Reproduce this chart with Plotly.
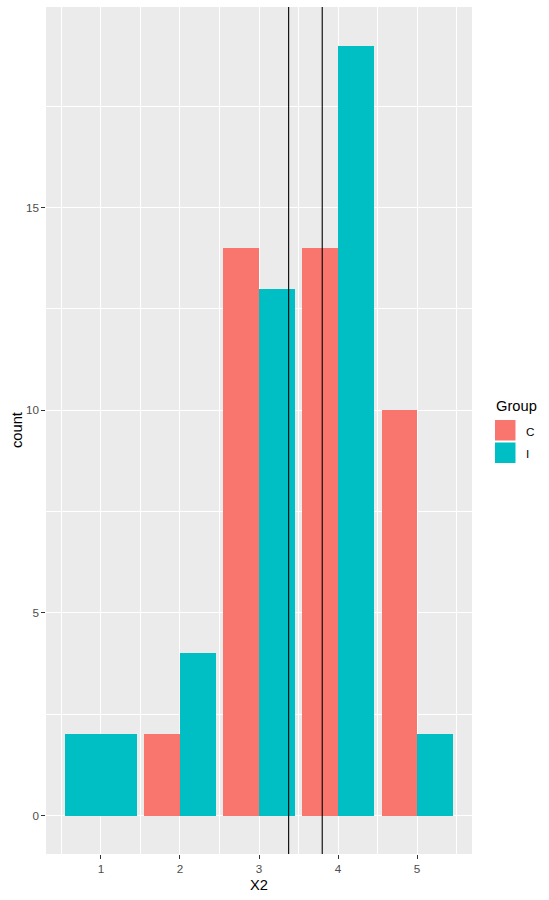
import plotly.graph_objects as go

# ---- data ----
groups = ["C", "I"]
colors = ["#F8766D", "#00BFC4"]
x_c = [2, 3, 4, 5]
count_c = [2, 14, 14, 10]
x_i = [1, 2, 3, 4, 5]
count_i = [2, 4, 13, 19, 2]
mean_lines = [3.375, 3.8]
x_ticks = [1, 2, 3, 4, 5]
y_ticks = [0, 5, 10, 15]

W, H = 549, 900
L, R, T, B = 46, 472, 7, 854  # panel pixel box


def px(xp):
    return (xp - L) / (R - L)


def py(yp):
    return (B - yp) / (B - T)


FONT = "Liberation Sans, Arial"

fig = go.Figure()

# C bars: dodged left half
fig.add_trace(go.Bar(
    x=x_c, y=count_c, width=[0.45] * len(x_c), offset=[-0.45] * len(x_c),
    marker=dict(color=colors[0], line=dict(width=0)), name=groups[0], showlegend=False,
))
# I bars: full width where C absent
i_width = [0.45 if xv in x_c else 0.9 for xv in x_i]
i_offset = [0.0 if xv in x_c else -0.45 for xv in x_i]
fig.add_trace(go.Bar(
    x=x_i, y=count_i, width=i_width, offset=i_offset,
    marker=dict(color=colors[1], line=dict(width=0)), name=groups[1], showlegend=False,
))

shapes = []
for m in mean_lines:
    shapes.append(dict(type="line", xref="x", yref="paper", x0=m, x1=m, y0=0, y1=1,
                       line=dict(color="black", width=1.1)))

annotations = [
    # axis titles
    dict(text="count", xref="paper", yref="paper", x=px(16.5), y=py((T + B) / 2),
         xanchor="center", yanchor="middle", textangle=-90, showarrow=False,
         font=dict(family=FONT, size=14.7, color="black")),
    dict(text="X2", xref="paper", yref="paper", x=px((L + R) / 2), y=py(885),
         xanchor="center", yanchor="middle", showarrow=False,
         font=dict(family=FONT, size=14.7, color="black")),
    # legend title
    dict(text="Group", xref="paper", yref="paper", x=px(494), y=py(406),
         xanchor="left", yanchor="middle", showarrow=False,
         font=dict(family=FONT, size=14.7, color="black")),
]
key_top = 420
for k, (g, c) in enumerate(zip(groups, colors)):
    y0 = key_top + k * 22.5
    shapes.append(dict(type="rect", xref="paper", yref="paper",
                       x0=px(495), x1=px(515.5), y0=py(y0), y1=py(y0 + 20.5),
                       fillcolor=c, line=dict(width=0)))
    annotations.append(dict(text=g, xref="paper", yref="paper", x=px(524), y=py(y0 + 11),
                            xanchor="left", yanchor="middle", showarrow=False,
                            font=dict(family=FONT, size=11.7, color="black")))

axis_common = dict(
    showline=False, zeroline=False, showgrid=True, gridcolor="white", gridwidth=1.1,
    ticks="outside", ticklen=3.7, tickwidth=1.1, tickcolor="#333333",
    tickfont=dict(family=FONT, size=11.7, color="#4D4D4D"),
)

fig.update_layout(
    width=W, height=H,
    margin=dict(l=L, r=W - R, t=T, b=H - B, pad=0),
    paper_bgcolor="white", plot_bgcolor="#EBEBEB",
    barmode="overlay", bargap=0,
    showlegend=False,
    shapes=shapes, annotations=annotations,
    xaxis=dict(
        **axis_common, range=[0.305, 5.695], tickmode="array", tickvals=x_ticks,
        ticktext=[str(v) for v in x_ticks],
        minor=dict(showgrid=True, gridcolor="white", gridwidth=0.6, tick0=0.5, dtick=1, ticks=""),
    ),
    yaxis=dict(
        **axis_common, range=[-0.95, 19.95], tickmode="array", tickvals=y_ticks,
        ticktext=[str(v) for v in y_ticks],
        minor=dict(showgrid=True, gridcolor="white", gridwidth=0.6, tick0=2.5, dtick=5, ticks=""),
    ),
)

fig.write_html("out.html")
